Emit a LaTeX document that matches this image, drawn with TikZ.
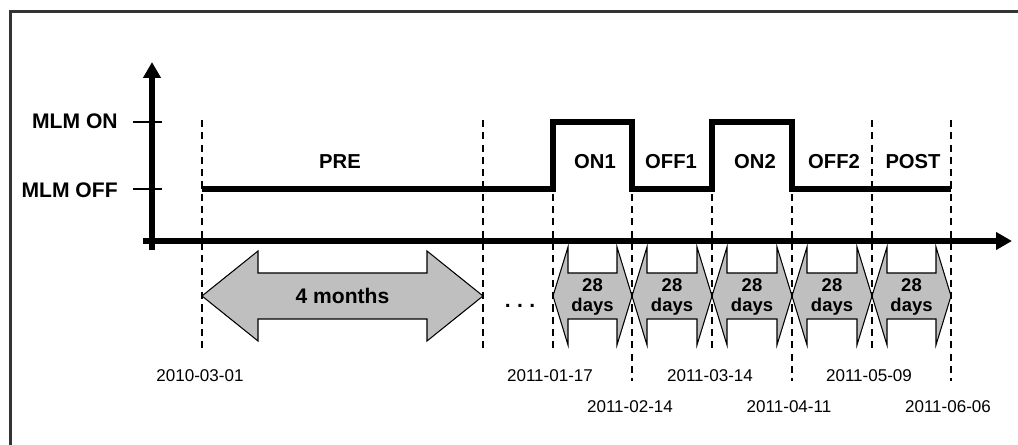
\documentclass[tikz,border=0pt]{standalone}
\usepackage{fontspec}
\setmainfont{Liberation Sans}
\usetikzlibrary{arrows.meta}

\begin{document}
\begin{tikzpicture}[
	x=0.02cm, y=-0.02cm,
	axis/.style={line width=3pt, -{Triangle[length=3.2mm, width=3.4mm]}},
	tickmark/.style={line width=1.2pt},
	wave/.style={line width=3pt, line join=miter},
	guide/.style={line width=0.9pt, dash pattern=on 4pt off 3pt},
	spanbox/.style={draw=black, line width=0.6pt, fill=black!25, line join=miter},
	levelname/.style={font=\bfseries\fontsize{12}{14}\selectfont, inner sep=0pt, anchor=east},
	phase/.style={font=\bfseries\fontsize{11.5}{14}\selectfont, inner sep=0pt},
	dur/.style={font=\bfseries\fontsize{10.5}{11.5}\selectfont, inner sep=0pt, align=center},
	datelabel/.style={font=\fontsize{9.7}{11}\selectfont, inner sep=0pt},
]
	\useasboundingbox (0,0) rectangle (1018,445);
	% Frame (only top and left edge show)
	\draw[line width=1.2pt, black!80] (10.5,445) -- (10.5,11.5) -- (1018,11.5);

	% Axes and levels
	\coordinate (on) at (152,122);
	\coordinate (off) at (152,189);
	\draw[axis] (152,250) -- (152,62);
	\draw[axis] (143,241) -- (1012,241);
	\draw[tickmark] (133,122) -- (162,122);
	\draw[tickmark] (133,189) -- (162,189);
	\node[levelname] (mlmon) at (118,121) {MLM ON};
	\node[levelname] (mlmoff) at (118,190) {MLM OFF};

	% Duration arrows
	\draw[spanbox] (202,296) -- (258,251) -- (258,273) -- (427,273) -- (427,251) -- (483,296)
		-- (427,341) -- (427,319) -- (258,319) -- (258,341) -- cycle;
	\node[phase, font=\bfseries\fontsize{12}{14}\selectfont] (pre-span) at (342.5,296) {4 months};
	\foreach \a/\b in {553/632, 632/712, 712/792, 792/872, 872/951} {
		\draw[spanbox] (\a,296) -- ({\a+15},247) -- ({\a+15},273) -- ({\b-15},273) -- ({\b-15},247) -- (\b,296)
			-- ({\b-15},345) -- ({\b-15},319) -- ({\a+15},319) -- ({\a+15},345) -- cycle;
		\node[dur] (span\a) at ({(\a+\b)/2},297) {28\\days};
	}
	\node[font=\bfseries\fontsize{12}{14}\selectfont, inner sep=0pt, anchor=base] (gap) at (520,308)
		{.\hspace{0.3em}.\hspace{0.3em}.};

	% Dashed guides
	\foreach \x/\y [count=\i] in {202/350, 483/350, 553/349, 632/381, 712/349, 792/381, 872/349, 951/381} {
		\coordinate (top\i) at (\x,120);
		\coordinate (bot\i) at (\x,\y);
		\draw[guide] (top\i) -- (bot\i);
	}

	% MLM signal
	\draw[wave] (top1 |- off) -- (top3 |- off) -- (top3 |- on) -- (top4 |- on) -- (top4 |- off)
		-- (top5 |- off) -- (top5 |- on) -- (top6 |- on) -- (top6 |- off) -- (top8 |- off);

	% Phase names
	\node[phase] (pre) at (340,162) {PRE};
	\node[phase] (on1) at (595,162) {ON1};
	\node[phase] (off1) at (671,162) {OFF1};
	\node[phase] (on2) at (755,162) {ON2};
	\node[phase] (off2) at (834,162) {OFF2};
	\node[phase] (post) at (913,162) {POST};

	% Dates
	\node[datelabel] (d1) at (200,376) {2010-03-01};
	\node[datelabel] (d2) at (550,376) {2011-01-17};
	\node[datelabel] (d3) at (630,407) {2011-02-14};
	\node[datelabel] (d4) at (710,376) {2011-03-14};
	\node[datelabel] (d5) at (789,407) {2011-04-11};
	\node[datelabel] (d6) at (869,376) {2011-05-09};
	\node[datelabel] (d7) at (948,407) {2011-06-06};
\end{tikzpicture}
\end{document}
